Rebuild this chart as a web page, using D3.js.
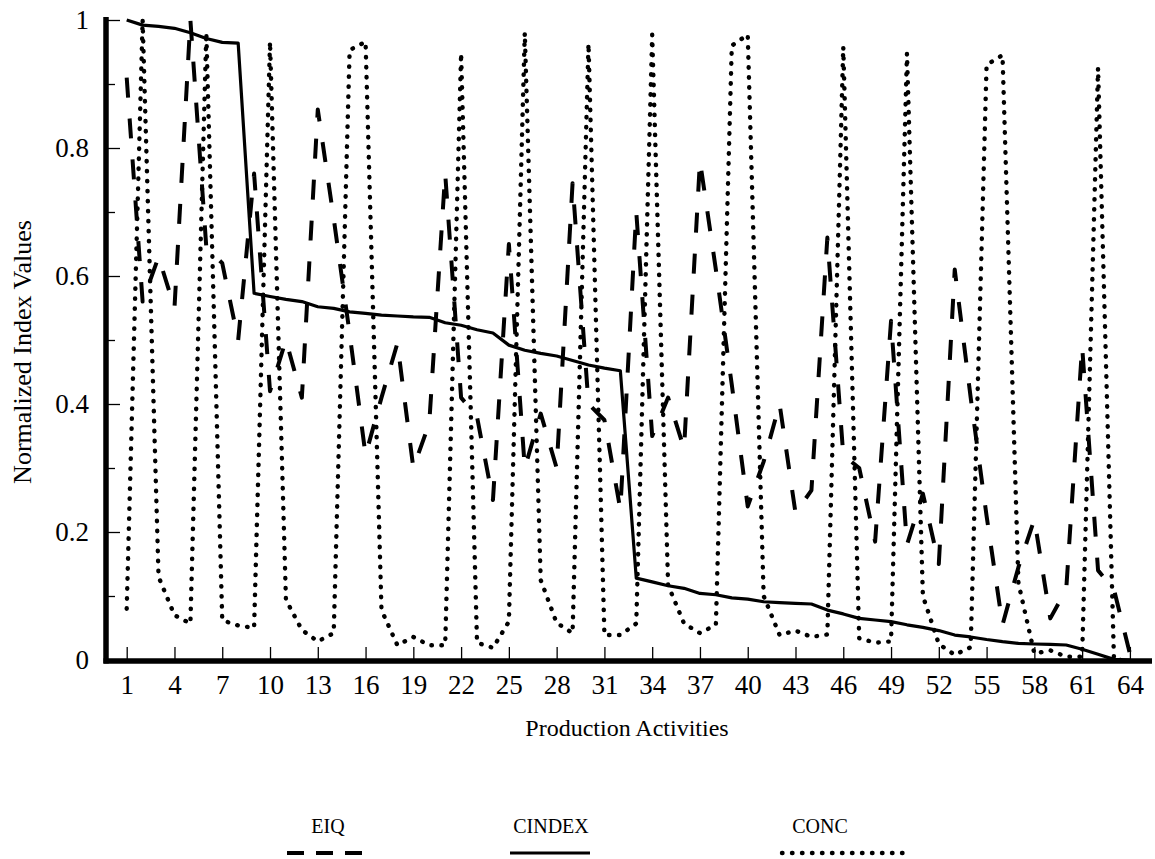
<!DOCTYPE html>
<html><head><meta charset="utf-8">
<script src="https://cdn.jsdelivr.net/npm/d3@7"></script>
<style>
body{margin:0;background:#fff}
svg{display:block}
text{font-family:"Liberation Serif","Times New Roman",serif;fill:#000}
</style>
</head><body>
<svg id="chart" width="1155" height="859"></svg>
<script>
// ---- data ----
const activities = d3.range(1, 65);
const eiq = [0.91,0.56,0.63,0.55,1.0,0.645,0.62,0.50,0.76,0.42,
             0.50,0.41,0.86,0.69,0.51,0.32,0.41,0.495,0.30,0.37,
             0.76,0.41,0.38,0.25,0.65,0.30,0.385,0.30,0.745,0.40,
             0.375,0.235,0.70,0.35,0.41,0.33,0.78,0.61,0.43,0.24,
             0.31,0.40,0.23,0.265,0.66,0.32,0.30,0.185,0.53,0.18,
             0.26,0.15,0.61,0.41,0.225,0.055,0.145,0.22,0.065,0.11,
             0.49,0.14,0.11,0.01];
const cindex = [1.0,0.992,0.99,0.987,0.98,0.971,0.965,0.964,0.573,0.568,
                0.5635,0.56,0.552,0.5495,0.544,0.5417,0.539,0.5375,0.536,0.5354,
                0.527,0.523,0.516,0.511,0.492,0.484,0.479,0.475,0.468,0.461,
                0.456,0.452,0.128,0.122,0.116,0.112,0.104,0.102,0.097,0.095,
                0.091,0.0896,0.0885,0.0875,0.078,0.072,0.065,0.0625,0.060,0.055,
                0.051,0.046,0.039,0.036,0.032,0.0286,0.026,0.025,0.0245,0.0234,
                0.0167,0.009,0.001,0.0];
const conc = [0.08,1.0,0.13,0.07,0.057,0.98,0.062,0.054,0.05,0.966,
              0.094,0.047,0.029,0.042,0.953,0.966,0.078,0.023,0.036,0.023,
              0.023,0.948,0.027,0.019,0.06,0.98,0.125,0.058,0.042,0.963,
              0.039,0.039,0.057,0.977,0.117,0.057,0.042,0.055,0.96,0.977,
              0.10,0.039,0.046,0.036,0.04,0.958,0.034,0.027,0.029,0.948,
              0.10,0.025,0.008,0.02,0.93,0.945,0.12,0.01,0.015,0.005,
              0.005,0.925,0.0,0.0];
const xTickValues = [1,4,7,10,13,16,19,22,25,28,31,34,37,40,43,46,49,52,55,58,61,64];
const yTickValues = [0,0.1,0.2,0.3,0.4,0.5,0.6,0.7,0.8,0.9,1];
const yTickLabels = ["0","","0.2","","0.4","","0.6","","0.8","","1"];
const seriesNames = ["EIQ","CINDEX","CONC"];
const xTitle = "Production Activities";
const yTitle = "Normalized Index Values";

// ---- drawing ----
const svg = d3.select("#chart");
const x = d3.scaleLinear().domain([1, 64]).range([126.7, 1129.9]);
const y = d3.scaleLinear().domain([0, 1]).range([660, 20]);

const styles = {
  EIQ:    {width: 4,   dash: "20 21", cap: "butt"},
  CINDEX: {width: 3.2, dash: null,    cap: "butt"},
  CONC:   {width: 4.4, dash: "0.5 9.5", cap: "round"}
};
const seriesData = {EIQ: eiq, CINDEX: cindex, CONC: conc};

const line = d3.line().x(d => x(d.x)).y(d => y(d.y));

["CONC","EIQ","CINDEX"].forEach(name => {
  const pts = activities.map((a, i) => ({x: a, y: seriesData[name][i]}));
  const st = styles[name];
  svg.append("path")
    .datum(pts)
    .attr("d", line)
    .attr("fill", "none")
    .attr("stroke", "#000")
    .attr("stroke-width", st.width)
    .attr("stroke-linecap", st.cap)
    .attr("stroke-linejoin", "round")
    .attr("stroke-dasharray", st.dash);
});

// x axis
const xAxisG = svg.append("g").attr("transform", "translate(0,661)")
  .call(d3.axisBottom(x).tickValues(xTickValues).tickSize(-14).tickPadding(14).tickFormat(d3.format("d")));
xAxisG.select(".domain").remove();
xAxisG.selectAll(".tick line").attr("stroke", "#000").attr("stroke-width", 1.3);
xAxisG.selectAll(".tick text").style("font-size", "27px").attr("font-family", null);

// y axis
const yAxisG = svg.append("g").attr("transform", "translate(106,0)")
  .call(d3.axisLeft(y).tickValues(yTickValues).tickSize(-14).tickPadding(17)
        .tickFormat((d, i) => yTickLabels[i]));
yAxisG.select(".domain").remove();
yAxisG.selectAll(".tick line").attr("stroke", "#000").attr("stroke-width", 1.3)
  .attr("x2", (d, i) => yTickLabels[i] ? 14 : 9);
yAxisG.selectAll(".tick text").style("font-size", "27px").attr("font-family", null);

// thick axis lines
svg.append("line").attr("x1", 106).attr("x2", 106).attr("y1", 17).attr("y2", 663.5)
  .attr("stroke", "#000").attr("stroke-width", 5.5);
svg.append("line").attr("x1", 103.5).attr("x2", 1152).attr("y1", 661).attr("y2", 661)
  .attr("stroke", "#000").attr("stroke-width", 5.5);

// axis titles
svg.append("text").attr("x", 627).attr("y", 736).attr("text-anchor", "middle")
  .style("font-size", "24px").text(xTitle);
svg.append("text").attr("transform", "translate(31,352) rotate(-90)").attr("text-anchor", "middle")
  .style("font-size", "26px").text(yTitle);

// legend
const legendPos = {EIQ: [328, 287, 362], CINDEX: [551, 510, 590], CONC: [820, 782, 912]};
seriesNames.forEach(name => {
  const [tx, lx1, lx2] = legendPos[name];
  const st = styles[name];
  svg.append("text").attr("x", tx).attr("y", 833).attr("text-anchor", "middle")
    .style("font-size", "20px").text(name);
  svg.append("line").attr("x1", lx1).attr("x2", lx2).attr("y1", 853).attr("y2", 853)
    .attr("stroke", "#000").attr("stroke-width", st.width)
    .attr("stroke-linecap", st.cap).attr("stroke-dasharray", name === "EIQ" ? "17 12" : st.dash);
});
</script>
</body></html>
